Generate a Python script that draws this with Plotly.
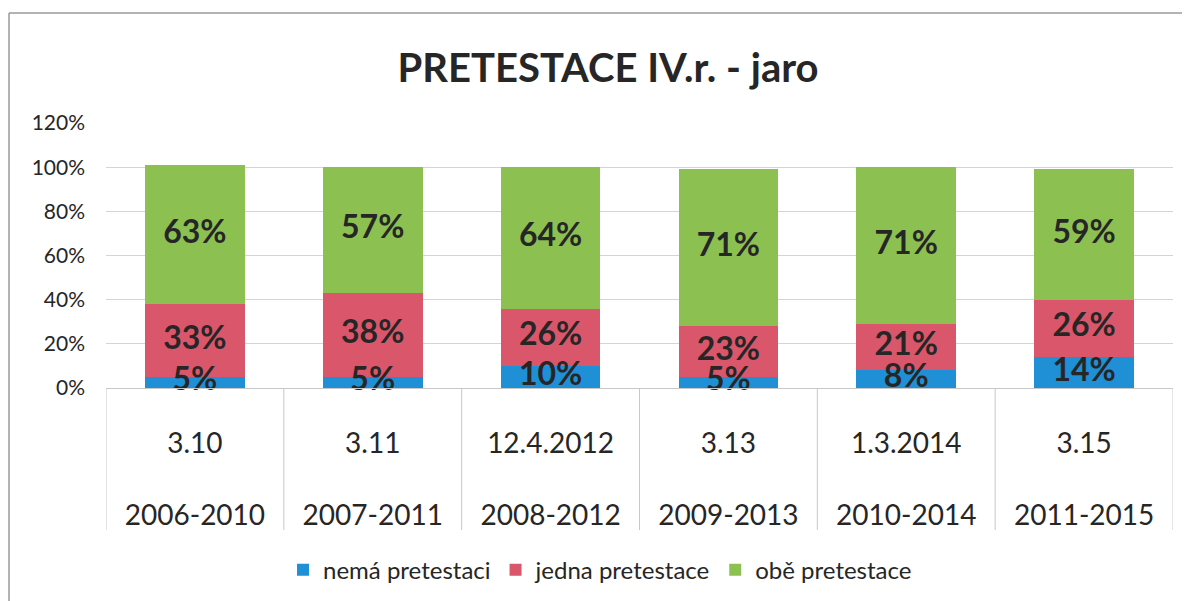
import plotly.graph_objects as go

dates = ["3.10", "3.11", "12.4.2012", "3.13", "1.3.2014", "3.15"]
periods = ["2006-2010", "2007-2011", "2008-2012", "2009-2013", "2010-2014", "2011-2015"]
nema = [5, 5, 10, 5, 8, 14]
jedna = [33, 38, 26, 23, 21, 26]
obe = [63, 57, 64, 71, 71, 59]

series = [
    ("nemá pretestaci", nema, "#1f8fd6"),
    ("jedna pretestace", jedna, "#d9566b"),
    ("obě pretestace", obe, "#8cc152"),
]

FONT = "Lato"
x = list(range(len(dates)))

fig = go.Figure()
base = [0] * len(x)
label_x, label_y, label_t = [], [], []
for name, vals, col in series:
    fig.add_trace(go.Bar(
        x=x, y=vals, name=name, marker=dict(color=col, line=dict(width=0)),
        width=0.56, hoverinfo="skip",
    ))
    for i, v in enumerate(vals):
        label_x.append(i)
        label_y.append(base[i] + v / 2)
        label_t.append(f"{v}%")
        base[i] += v

# data labels on top of all segments
fig.add_trace(go.Scatter(
    x=label_x, y=label_y, text=label_t, mode="text", showlegend=False,
    textposition="middle center", cliponaxis=False, hoverinfo="skip",
    textfont=dict(family=FONT, size=32, color="#262626", weight="bold"),
))

# table-like separators under the axis
for i in range(len(dates) + 1):
    fig.add_shape(type="line", xref="x", yref="paper", x0=i - 0.5, x1=i - 0.5,
                  y0=0, y1=-0.536, line=dict(color="#c8c8c8", width=1))

# outer frame (top and left edges)
fig.add_shape(type="line", xref="paper", yref="paper", x0=-0.0909, x1=1.2,
              y0=1.415, y1=1.415, line=dict(color="#9a9a9a", width=1.5))
fig.add_shape(type="line", xref="paper", yref="paper", x0=-0.0909, x1=-0.0909,
              y0=1.415, y1=-1.0, line=dict(color="#9a9a9a", width=1.5))

fig.update_layout(
    barmode="stack",
    width=1190, height=601,
    margin=dict(l=98, r=25, t=115, b=221),
    paper_bgcolor="white", plot_bgcolor="white",
    title=dict(text="<b>PRETESTACE IV.r. - jaro</b>", x=600 / 1190, xanchor="center",
               y=1 - 60 / 601, yanchor="middle",
               font=dict(family=FONT, size=40, color="#262626")),
    legend=dict(orientation="h", x=0.463, xanchor="center", y=-0.687, yanchor="middle",
                font=dict(family=FONT, size=24, color="#262626"), traceorder="normal"),
    showlegend=True,
)
fig.update_xaxes(
    range=[-0.5, len(dates) - 0.5],
    tickmode="array", tickvals=x,
    ticktext=[f"{d}<br><br>{p}" for d, p in zip(dates, periods)],
    tickfont=dict(family=FONT, size=28, color="#262626"),
    ticks="", ticklabelstandoff=30,
    showline=True, linecolor="#c8c8c8", linewidth=1, showgrid=False, zeroline=False,
)
fig.update_yaxes(
    range=[0, 120], dtick=20, ticksuffix="%",
    tickfont=dict(family=FONT, size=21, color="#262626"),
    showgrid=True, gridcolor="#d4d4d4", gridwidth=1, zeroline=False, ticks="",
    ticklabelstandoff=20,
)

fig.write_html("out.html")
